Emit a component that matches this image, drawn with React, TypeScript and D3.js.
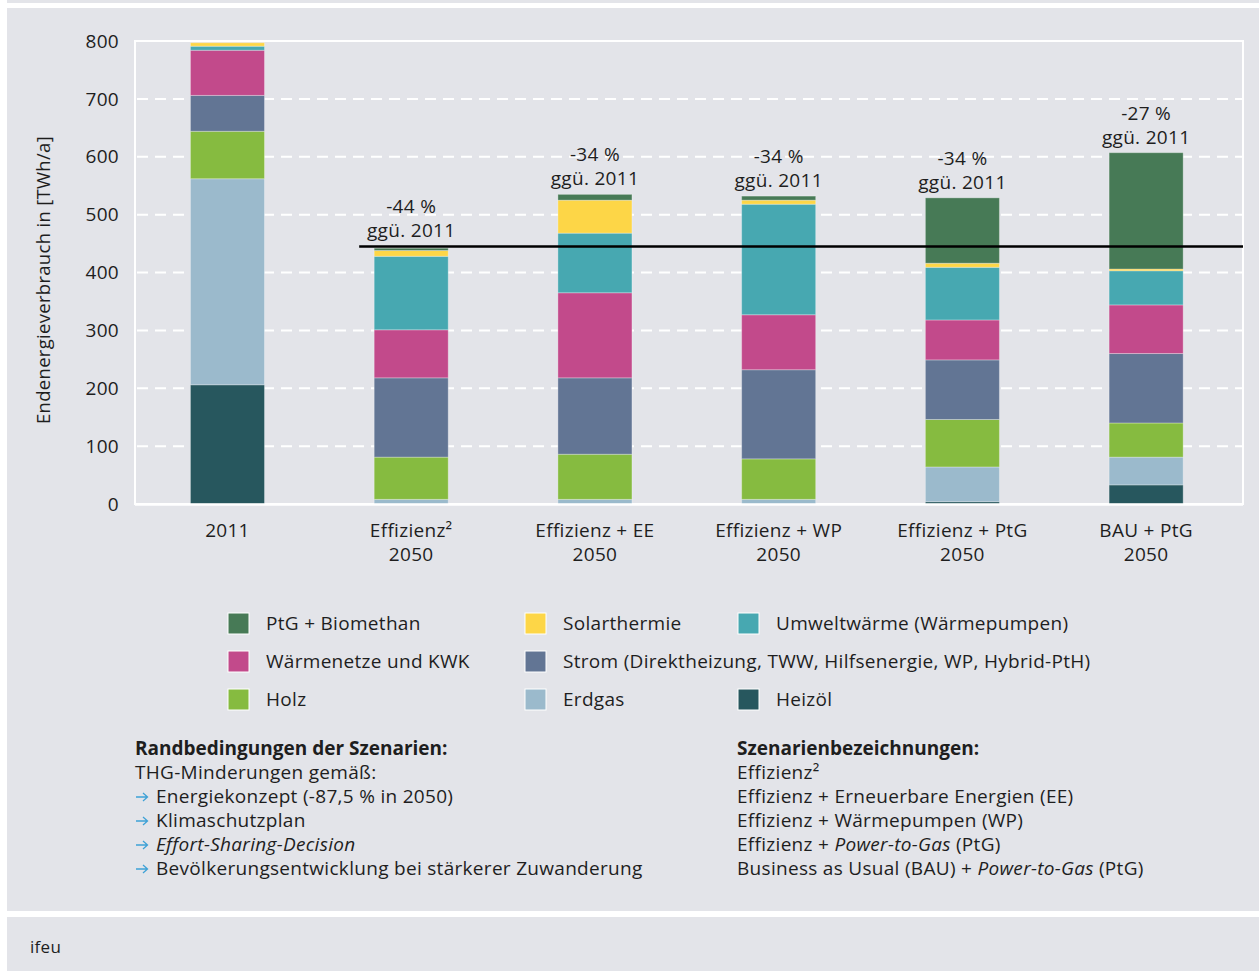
import { useEffect, useRef } from "react";
import * as d3 from "d3";

// categories (x axis)
const categories = [
  "2011",
  "Effizienz² 2050",
  "Effizienz + EE 2050",
  "Effizienz + WP 2050",
  "Effizienz + PtG 2050",
  "BAU + PtG 2050",
];
const categoryLines = [
  ["2011"],
  ["Effizienz²", "2050"],
  ["Effizienz + EE", "2050"],
  ["Effizienz + WP", "2050"],
  ["Effizienz + PtG", "2050"],
  ["BAU + PtG", "2050"],
];

// series values in TWh/a, bottom to top
const heizoel = [206, 0, 0, 0, 4, 33];
const erdgas = [356, 8, 8, 8, 60, 48];
const holz = [82, 73, 78, 70, 82, 59];
const strom = [62, 137, 132, 154, 103, 120];
const waermenetze = [78, 83, 147, 95, 69, 84];
const umweltwaerme = [7, 127, 103, 191, 91, 59];
const solarthermie = [6, 10, 57, 7, 7, 3];
const ptgBiomethan = [0, 4, 10, 7, 113, 201];

const seriesKeys = ["Heizöl", "Erdgas", "Holz", "Strom", "Wärmenetze und KWK", "Umweltwärme", "Solarthermie", "PtG + Biomethan"];
const seriesValues = [heizoel, erdgas, holz, strom, waermenetze, umweltwaerme, solarthermie, ptgBiomethan];
const seriesColors = ["#27575e", "#9bbacc", "#86bb40", "#627594", "#c24a8b", "#47a8b1", "#fdd647", "#477a56"];
const legendLabels = [
  "Heizöl",
  "Erdgas",
  "Holz",
  "Strom (Direktheizung, TWW, Hilfsenergie, WP, Hybrid-PtH)",
  "Wärmenetze und KWK",
  "Umweltwärme (Wärmepumpen)",
  "Solarthermie",
  "PtG + Biomethan",
];
// legend rows -> series index
const legendRows = [
  [7, 6, 5],
  [4, 3],
  [2, 1, 0],
];

const changeLabels = ["", "-44 %", "-34 %", "-34 %", "-34 %", "-27 %"];
const changeSuffix = "ggü. 2011";
const targetValue = 445;
const yTicks = [0, 100, 200, 300, 400, 500, 600, 700, 800];

const leftNotes = [
  { t: "Randbedingungen der Szenarien:", bold: true },
  { t: "THG-Minderungen gemäß:" },
  { t: "Energiekonzept (-87,5 % in 2050)", arrow: true },
  { t: "Klimaschutzplan", arrow: true },
  { t: "Effort-Sharing-Decision", arrow: true, italic: true },
  { t: "Bevölkerungsentwicklung bei stärkerer Zuwanderung", arrow: true },
];
const rightNotes = [
  [{ t: "Szenarienbezeichnungen:", bold: true }],
  [{ t: "Effizienz²" }],
  [{ t: "Effizienz + Erneuerbare Energien (EE)" }],
  [{ t: "Effizienz + Wärmepumpen (WP)" }],
  [{ t: "Effizienz + " }, { t: "Power-to-Gas", italic: true }, { t: " (PtG)" }],
  [{ t: "Business as Usual (BAU) + " }, { t: "Power-to-Gas", italic: true }, { t: " (PtG)" }],
];

const W = 1259;
const H = 971;
const FONT = "'Open Sans', sans-serif";
const FS = 19;
const INK = "#1e1e1e";
const BG = "#e3e4e9";

const App = () => {
  const ref = useRef<SVGSVGElement>(null);

  useEffect(() => {
    document.body.style.margin = "0";
    const svg = d3.select(ref.current);
    svg.selectAll("*").remove();

    // panels
    svg.append("rect").attr("width", W).attr("height", H).attr("fill", "#fff");
    svg.append("rect").attr("x", 7).attr("y", 0).attr("width", W - 7).attr("height", 3).attr("fill", BG);
    svg.append("rect").attr("x", 7).attr("y", 8).attr("width", W - 7).attr("height", 903).attr("fill", BG);
    svg.append("rect").attr("x", 7).attr("y", 917).attr("width", W - 7).attr("height", H - 917).attr("fill", BG);

    const plotL = 135;
    const plotR = 1243;
    const x = d3.scaleBand().domain(categories).range([135.6, 1238]).paddingInner(0.597).paddingOuter(0.2985);
    const y = d3.scaleLinear().domain([0, 800]).range([504, 41]);

    const g = svg
      .append("g")
      .attr("font-family", FONT)
      .attr("fill", INK)
      .attr("letter-spacing", "0.3px");

    // grid
    g.append("g")
      .selectAll("line")
      .data(yTicks.filter((d) => d > 0 && d < 800))
      .join("line")
      .attr("x1", plotL + 2)
      .attr("x2", plotR - 1)
      .attr("y1", (d) => y(d))
      .attr("y2", (d) => y(d))
      .attr("stroke", "#fff")
      .attr("stroke-width", 2)
      .attr("stroke-dasharray", "11,7");

    // frame
    g.append("rect")
      .attr("x", plotL)
      .attr("y", y(800))
      .attr("width", plotR - plotL)
      .attr("height", y(0) - y(800))
      .attr("fill", "none")
      .attr("stroke", "#fff")
      .attr("stroke-width", 2);

    // stacked bars
    const table = categories.map((c, i) => {
      const row: any = { cat: c };
      seriesKeys.forEach((k, j) => (row[k] = seriesValues[j][i]));
      return row;
    });
    const stacked = d3.stack().keys(seriesKeys)(table);

    g.append("g")
      .selectAll("g")
      .data(stacked)
      .join("g")
      .attr("fill", (_, i) => seriesColors[i])
      .selectAll("rect")
      .data((d) => d.filter((s) => s[1] - s[0] > 0))
      .join("rect")
      .attr("x", (d: any) => x(d.data.cat)!)
      .attr("width", x.bandwidth())
      .attr("y", (d) => y(d[1]))
      .attr("height", (d) => y(d[0]) - y(d[1]))
      .attr("stroke", "rgba(255,255,255,0.3)")
      .attr("stroke-width", 1);

    // bottom axis line drawn over bars
    g.append("line")
      .attr("x1", plotL)
      .attr("x2", plotR)
      .attr("y1", y(0) + 0.5)
      .attr("y2", y(0) + 0.5)
      .attr("stroke", "#fff")
      .attr("stroke-width", 2.5);

    // target line
    g.append("line")
      .attr("x1", x(categories[1])! - 15)
      .attr("x2", plotR)
      .attr("y1", y(targetValue))
      .attr("y2", y(targetValue))
      .attr("stroke", "#000")
      .attr("stroke-width", 2.5);

    // change labels
    const totals = categories.map((_, i) => d3.sum(seriesValues, (s) => s[i]));
    categories.forEach((c, i) => {
      if (!changeLabels[i]) return;
      const top = Math.min(y(totals[i]), y(targetValue));
      const cx = x(c)! + x.bandwidth() / 2;
      const t = g.append("text").attr("text-anchor", "middle").attr("font-size", FS);
      t.append("tspan").attr("x", cx).attr("y", top - 33).text(changeLabels[i]);
      t.append("tspan").attr("x", cx).attr("y", top - 9).text(changeSuffix);
    });

    // y ticks
    g.append("g")
      .selectAll("text")
      .data(yTicks)
      .join("text")
      .attr("x", 119)
      .attr("y", (d) => y(d))
      .attr("dy", "0.35em")
      .attr("text-anchor", "end")
      .attr("font-size", FS)
      .text((d) => d);

    g.append("text")
      .attr("transform", `translate(50,280) rotate(-90)`)
      .attr("text-anchor", "middle")
      .attr("font-size", 18.5)
      .text("Endenergieverbrauch in [TWh/a]");

    // x labels
    categories.forEach((c, i) => {
      const cx = x(c)! + x.bandwidth() / 2;
      const t = g.append("text").attr("text-anchor", "middle").attr("font-size", FS);
      categoryLines[i].forEach((line, k) => {
        t.append("tspan").attr("x", cx).attr("y", 537 + k * 24).text(line);
      });
    });

    // legend
    const legendX = [228, 525, 738];
    const legendY = [623, 661, 699];
    legendRows.forEach((row, r) => {
      row.forEach((si, c) => {
        g.append("rect")
          .attr("x", legendX[c])
          .attr("y", legendY[r] - 10)
          .attr("width", 21)
          .attr("height", 21)
          .attr("fill", seriesColors[si])
          .attr("stroke", "#fff")
          .attr("stroke-width", 1);
        g.append("text")
          .attr("x", legendX[c] + 38)
          .attr("y", legendY[r] + 6.5)
          .attr("font-size", FS)
          .text(legendLabels[si]);
      });
    });

    // notes
    const noteY = 755;
    leftNotes.forEach((n, i) => {
      const yy = noteY + i * 24;
      if (n.arrow) {
        g.append("path")
          .attr("d", `M136,${yy - 6}H147M143,${yy - 10}L147.5,${yy - 6}L143,${yy - 2}`)
          .attr("fill", "none")
          .attr("stroke", "#3ea1d6")
          .attr("stroke-width", 1.3);
      }
      g.append("text")
        .attr("x", n.arrow ? 156 : 135)
        .attr("y", yy)
        .attr("font-size", FS)
        .attr("font-weight", n.bold ? 700 : 400)
        .attr("letter-spacing", n.bold ? "0px" : null)
        .attr("font-style", n.italic ? "italic" : "normal")
        .text(n.t);
    });
    rightNotes.forEach((parts, i) => {
      const t = g.append("text").attr("x", 737).attr("y", noteY + i * 24).attr("font-size", FS);
      parts.forEach((p: any) => {
        t.append("tspan")
          .attr("font-weight", p.bold ? 700 : 400)
          .attr("letter-spacing", p.bold ? "0px" : null)
          .attr("font-style", p.italic ? "italic" : "normal")
          .text(p.t);
      });
    });

    g.append("text").attr("x", 30).attr("y", 953).attr("font-size", 17).text("ifeu");
  }, []);

  return <svg ref={ref} width={W} height={H} style={{ display: "block" }} />;
};

export default App;
